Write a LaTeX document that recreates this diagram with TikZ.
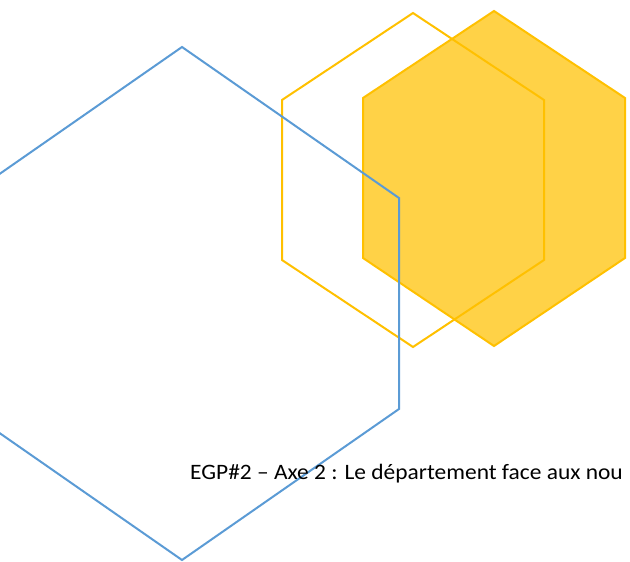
\documentclass[tikz,border=0pt]{standalone}
\usepackage{fontspec}
\setmainfont{Carlito}
\usepackage{xcolor}
\definecolor{hexblue}{HTML}{5B9BD5}
\definecolor{hexgold}{HTML}{FFC000}
\begin{document}
\begin{tikzpicture}[x=1pt,y=-1pt]
% the hexagon looks
\tikzset{blue hex/.style={draw=hexblue,line width=2pt,line join=miter}}
\tikzset{gold hex/.style={draw=hexgold,line width=2pt,line join=miter}}
\tikzset{gold fill/.style={gold hex,fill=hexgold,fill opacity=0.72,draw opacity=1}}
\useasboundingbox (0,0) rectangle (630,562);
\clip (0,0) rectangle (630,562);
% filled hexagon
\draw[gold fill] (494,11) -- (625,98) -- (625,258) -- (494,346) -- (363,258) -- (363,98) -- cycle;
% open hexagon
\draw[gold hex] (413,13) -- (544,100) -- (544,260) -- (413,347) -- (282,260) -- (282,100) -- cycle;
% big blue hexagon, cut at the left
\draw[blue hex] (182,47) -- (399,198) -- (399,409) -- (182,560) -- (-35,409) -- (-35,198) -- cycle;
% the caption, as far as it shows
\node (caption) [anchor=base west,inner sep=0pt,xscale=1.065,transform shape,font=\fontsize{22}{26}\selectfont] at (190,479) {EGP\#2 – Axe 2 : Le département face aux nou};
\end{tikzpicture}
\end{document}
